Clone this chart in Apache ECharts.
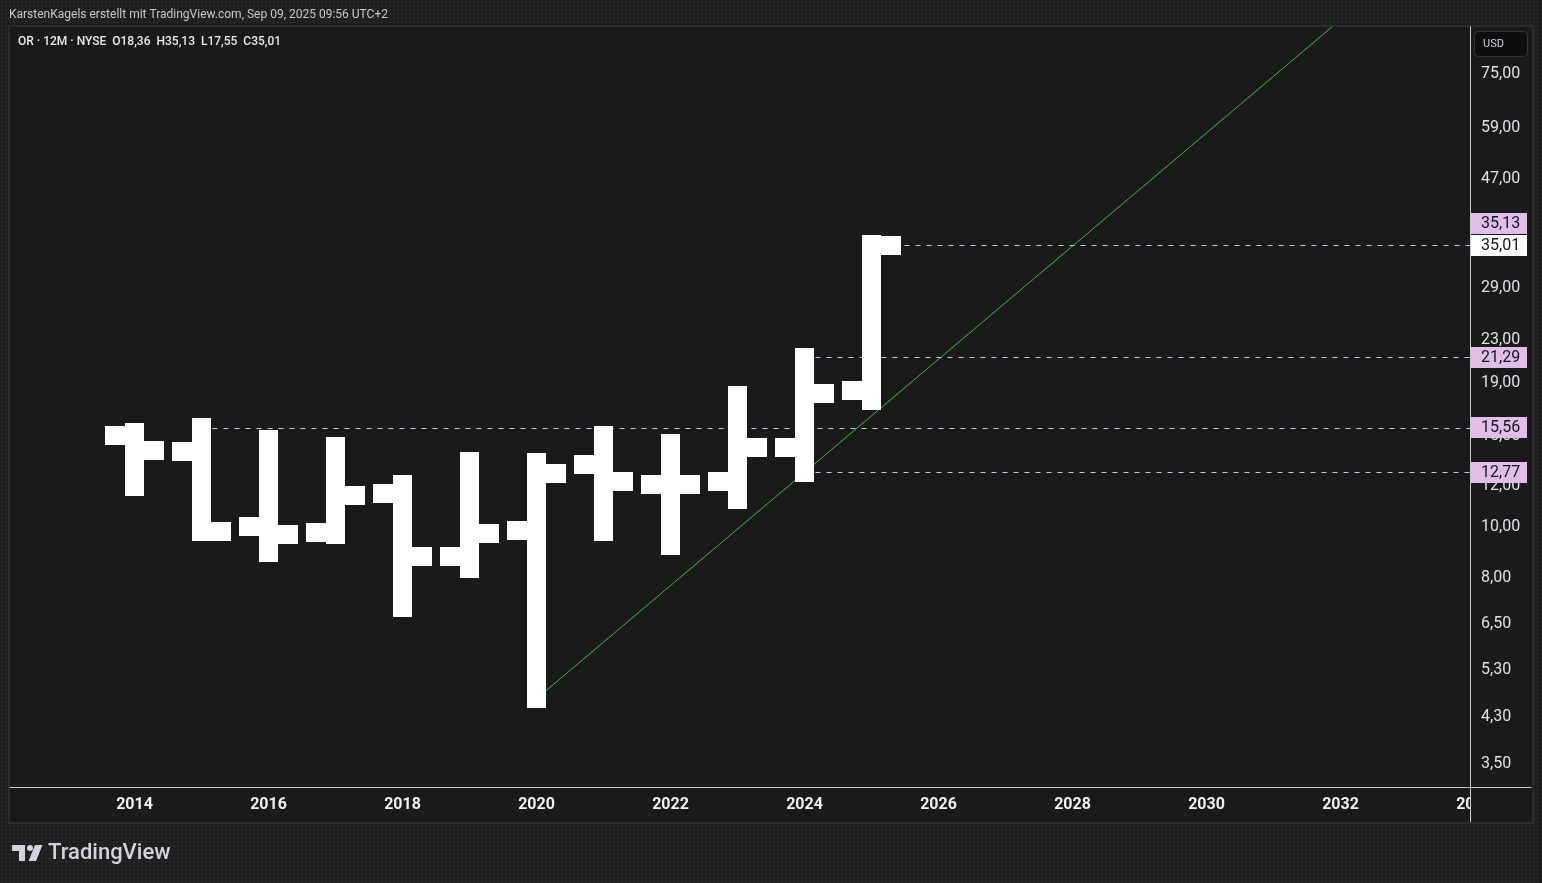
<!DOCTYPE html>
<html>
<head>
<meta charset="utf-8">
<script src="https://cdn.jsdelivr.net/npm/echarts@6/dist/echarts.min.js"></script>
<style>
html,body{margin:0;padding:0;width:1542px;height:883px;overflow:hidden;
  background-color:#1e1e1e;
  background-image:radial-gradient(rgba(255,255,255,0.045) 0.7px, transparent 0.9px);
  background-size:4px 4px;}
#chart{width:1542px;height:883px;}
</style>
</head>
<body>
<div id="chart"></div>
<script>
// ---- data (yearly OHLC, OR · 12M · NYSE) ----
const years  = [2014, 2015, 2016, 2017, 2018, 2019, 2020, 2021, 2022, 2023, 2024, 2025];
const opens  = [15.03, 14.00, 10.02, 9.76, 11.65, 8.77, 9.85, 13.21, 12.09, 12.25, 14.25, 18.36];
const highs  = [15.28, 15.56, 14.75, 14.36, 12.08, 13.43, 13.32, 15.08, 14.55, 17.94, 21.29, 35.13];
const lows   = [11.97, 9.80, 8.93, 9.69, 7.02, 8.35, 4.67, 9.81, 9.22, 11.31, 12.77, 17.55];
const closes = [14.05, 9.84, 9.71, 11.55, 8.77, 9.72, 12.69, 12.25, 12.09, 14.25, 18.11, 35.01];

// horizontal level drawings
const levelValues     = [35.13, 21.29, 15.56, 12.77];
const levelStartYears = [2025, 2024, 2015, 2024];

// trend line anchors (2020 low -> 2024 low, extended)
const trendYears  = [2020, 2024];
const trendValues = [4.67, 12.77];

// axis tick labels
const yTickValues = [3.5, 4.3, 5.3, 6.5, 8, 10, 12, 15, 19, 23, 29, 47, 59, 75];
const xTickValues = [2014, 2016, 2018, 2020, 2022, 2024, 2026, 2028, 2030, 2032, 2034];

// ---- layout ----
const FONT = "Roboto, 'Noto Sans', sans-serif";
const PLOT_LEFT = 10, PLOT_TOP = 27, PLOT_RIGHT = 1470, PLOT_BOTTOM = 787, PANEL_RIGHT = 1531;
const xMin = 2012.1418, xMax = 2033.9328;
const xMaxLabel = xMin + (xMax - xMin) * (PANEL_RIGHT - PLOT_LEFT) / (PLOT_RIGHT - PLOT_LEFT);
const yMin = 3.155, yMax = 92.46;

const fmt = v => v.toFixed(2).replace('.', ',');
const last = years.length - 1;
const legendText = 'OR · 12M · NYSE  O' + fmt(opens[last]) + '  H' + fmt(highs[last]) +
  '  L' + fmt(lows[last]) + '  C' + fmt(closes[last]);

const chart = echarts.init(document.getElementById('chart'), null, {renderer: 'canvas'});

const BAR_W = 19, TICK_L = 20;
function renderBar(params, api) {
  const x = api.value(0);
  const pO = api.coord([x, api.value(1)]);
  const pH = api.coord([x, api.value(2)]);
  const pL = api.coord([x, api.value(3)]);
  const pC = api.coord([x, api.value(4)]);
  const h = BAR_W / 2;
  const left = Math.round(pO[0] - h);
  const top = Math.round(pH[1] - h), bottom = Math.round(pL[1] + h);
  const oy = Math.round(pO[1] - h), cy = Math.round(pC[1] - h);
  const st = {fill: '#ffffff'};
  return {type: 'group', children: [
    {type: 'rect', shape: {x: left, y: top, width: BAR_W, height: bottom - top}, style: st},
    {type: 'rect', shape: {x: left - TICK_L, y: oy, width: TICK_L, height: BAR_W}, style: st},
    {type: 'rect', shape: {x: left + BAR_W, y: cy, width: TICK_L, height: BAR_W}, style: st}
  ]};
}

function renderTrend(params, api) {
  const p1 = api.coord([api.value(0), api.value(1)]);
  const p2 = api.coord([api.value(2), api.value(3)]);
  const top = params.coordSys.y;
  const t = (top - p1[1]) / (p2[1] - p1[1]);
  return {type: 'line',
    shape: {x1: p1[0], y1: p1[1], x2: p1[0] + t * (p2[0] - p1[0]), y2: top},
    style: {stroke: '#4caf50', lineWidth: 1}};
}

function renderLevel(params, api) {
  const p = api.coord([api.value(0), api.value(1)]);
  const right = params.coordSys.x + params.coordSys.width;
  const y = Math.round(p[1]) + 0.5;
  return {type: 'line', shape: {x1: p[0], y1: y, x2: right, y2: y},
    style: {stroke: '#e1bee7', lineWidth: 1, lineDash: [5, 6]}};
}

const BOX_H = 21, BOX_W = 56;
function renderPriceLabel(params, api) {
  const value = api.value(0);
  const isLast = api.value(1) === 1;
  const right = params.coordSys.x + params.coordSys.width;
  let y = api.coord([xMax, value])[1];
  if (!isLast) {
    const yLast = api.coord([xMax, closes[last]])[1];
    if (Math.abs(y - yLast) < BOX_H) {
      y = value >= closes[last] ? yLast - BOX_H - 1 : yLast + BOX_H + 1;
    }
  }
  const top = Math.round(y - BOX_H / 2);
  return {type: 'group', children: [
    {type: 'rect', shape: {x: right + 1, y: top, width: BOX_W, height: BOX_H},
      style: {fill: isLast ? '#ffffff' : '#e1bee7'}},
    {type: 'text', x: right + 11, y: top + BOX_H / 2 + 0.5,
      style: {text: fmt(value), fill: '#131722', font: '16px ' + FONT, align: 'left', verticalAlign: 'middle'}}
  ]};
}

const labelData = levelValues.map(v => [v, 0]).concat([[closes[last], 1]]);

const option = {
  backgroundColor: 'transparent',
  animation: false,
  grid: [
    {left: PLOT_LEFT, top: PLOT_TOP, width: PLOT_RIGHT - PLOT_LEFT, height: PLOT_BOTTOM - PLOT_TOP},
    {left: PLOT_LEFT, top: PLOT_TOP, width: PANEL_RIGHT - PLOT_LEFT, height: PLOT_BOTTOM - PLOT_TOP}
  ],
  xAxis: [
    {gridIndex: 0, type: 'value', min: xMin, max: xMax,
      axisLine: {show: false}, axisTick: {show: false}, axisLabel: {show: false}, splitLine: {show: false}},
    {gridIndex: 1, type: 'value', min: xMin, max: xMaxLabel,
      axisLine: {show: true, lineStyle: {color: '#c8cad0', width: 1}},
      axisTick: {show: false}, splitLine: {show: false},
      axisLabel: {customValues: xTickValues, formatter: v => String(v), color: '#f0f0f0',
        fontWeight: 'bold', fontSize: 16, fontFamily: FONT, margin: 10}}
  ],
  yAxis: [
    {gridIndex: 0, type: 'log', logBase: 10, min: yMin, max: yMax, position: 'right', z: 1,
      axisLine: {show: true, lineStyle: {color: '#c8cad0', width: 1}},
      axisTick: {show: false}, splitLine: {show: false},
      axisLabel: {customValues: yTickValues, formatter: v => fmt(v), color: '#dfe1e6',
        fontSize: 16, fontFamily: FONT, margin: 11}},
    {gridIndex: 1, type: 'value', show: false, min: 0, max: 1}
  ],
  series: [
    {type: 'custom', name: 'trend', xAxisIndex: 0, yAxisIndex: 0, z: 1, silent: true,
      data: [[trendYears[0], trendValues[0], trendYears[1], trendValues[1]]],
      encode: {x: [0, 2], y: [1, 3]}, renderItem: renderTrend},
    {type: 'custom', name: 'levels', xAxisIndex: 0, yAxisIndex: 0, z: 2, silent: true,
      data: levelStartYears.map((yr, i) => [yr, levelValues[i]]),
      encode: {x: 0, y: 1}, renderItem: renderLevel},
    {type: 'custom', name: 'OR', xAxisIndex: 0, yAxisIndex: 0, z: 3, silent: true,
      data: years.map((yr, i) => [yr, opens[i], highs[i], lows[i], closes[i]]),
      encode: {x: 0, y: [1, 2, 3, 4]}, renderItem: renderBar},
    {type: 'custom', name: 'priceLabels', xAxisIndex: 0, yAxisIndex: 0, z: 6, silent: true, clip: false,
      data: labelData, encode: {y: 0}, renderItem: renderPriceLabel}
  ],
  graphic: [
    {type: 'rect', z: -10, silent: true, shape: {x: 9, y: 26, width: 1524, height: 797},
      style: {fill: '#1a1a1a', stroke: '#2b2b2b', lineWidth: 2}},
    {type: 'rect', z: 50, silent: true, shape: {x: PLOT_RIGHT + 1, y: PLOT_BOTTOM + 1, width: PANEL_RIGHT - PLOT_RIGHT, height: 34},
      style: {fill: '#1a1a1a'}},
    {type: 'line', z: 51, silent: true, shape: {x1: PLOT_RIGHT + 0.5, y1: PLOT_BOTTOM, x2: PLOT_RIGHT + 0.5, y2: 822},
      style: {stroke: '#c8cad0', lineWidth: 1}},
    {type: 'text', z: 20, x: 9, y: 15, silent: true,
      style: {text: 'KarstenKagels erstellt mit TradingView.com, Sep 09, 2025 09:56 UTC+2',
        fill: '#c8c8c8', font: '12px ' + FONT, verticalAlign: 'middle'}},
    {type: 'text', z: 20, x: 18, y: 42, silent: true,
      style: {text: legendText, fill: '#eaeaea', font: '500 12px ' + FONT, verticalAlign: 'middle'}},
    {type: 'rect', z: 20, silent: true, shape: {x: 1474.5, y: 31.5, width: 53, height: 25, r: 4},
      style: {fill: '#0e0e0e', stroke: '#333333', lineWidth: 1}},
    {type: 'text', z: 21, x: 1483, y: 44.5, silent: true,
      style: {text: 'USD', fill: '#d1d4dc', font: '11px ' + FONT, verticalAlign: 'middle'}},
    // TradingView logo
    {type: 'polygon', z: 20, silent: true,
      shape: {points: [[12, 845], [25, 845], [25, 861], [19, 861], [19, 851], [12, 851]]},
      style: {fill: '#d1d4dc'}},
    {type: 'circle', z: 20, silent: true, shape: {cx: 30, cy: 848, r: 3}, style: {fill: '#d1d4dc'}},
    {type: 'polygon', z: 20, silent: true,
      shape: {points: [[35, 845], [42.5, 845], [36, 861], [28.5, 861]]},
      style: {fill: '#d1d4dc'}},
    {type: 'text', z: 20, x: 48, y: 853, silent: true,
      style: {text: 'TradingView', fill: '#d1d4dc', font: '500 22px ' + FONT, verticalAlign: 'middle'}}
  ]
};
chart.setOption(option);
</script>
</body>
</html>
